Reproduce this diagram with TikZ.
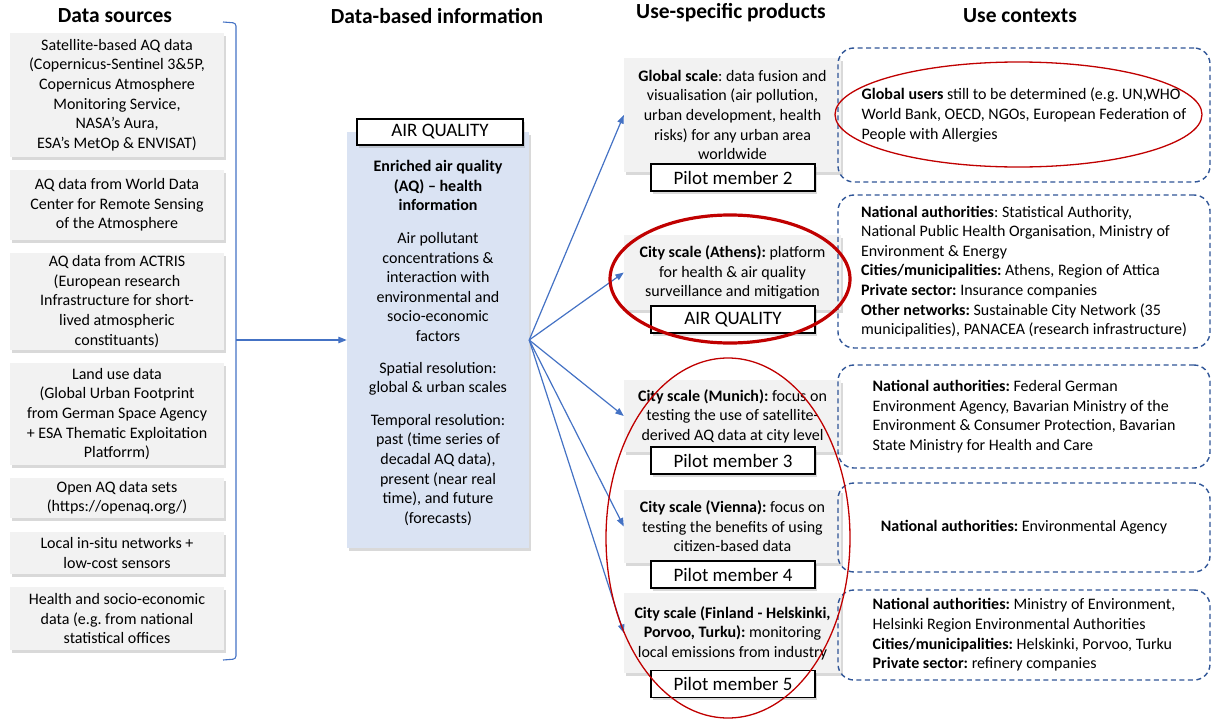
\documentclass[tikz,border=0pt]{standalone}
\usepackage{fontspec}
\setmainfont{Carlito}
\frenchspacing
\usetikzlibrary{positioning,shadows,arrows.meta}
\definecolor{aqblue}{HTML}{4472C4}
\definecolor{aqnavy}{HTML}{2F5597}
\definecolor{aqred}{HTML}{C00000}
\definecolor{aqgray}{HTML}{F2F2F2}
\definecolor{aqpale}{HTML}{DAE3F3}

\begin{document}
\begin{tikzpicture}[x=1pt,y=-1pt,
      font=\fontsize{16}{19.6}\selectfont,
      shade/.style={drop shadow={opacity=0.3,shadow xshift=2pt,shadow yshift=-2.5pt}},
      head/.style={font=\fontsize{21.5}{24}\selectfont\bfseries},
      src/.style ={fill=aqgray,shade,minimum width=214pt,align=center,inner sep=0pt},
      prod/.style={fill=aqgray,shade,minimum width=217pt,align=center,inner sep=0pt},
      tag/.style ={draw,line width=1.2pt,fill=white,shade,minimum width=164pt,minimum height=27pt,inner sep=0pt,font=\fontsize{19}{21}\selectfont},
      ctx/.style ={draw=aqnavy,line width=1.4pt,dash pattern=on 5pt off 3.5pt,rounded corners=16pt,minimum width=372pt,align=left},
      link/.style={-{Triangle[length=8.5pt,width=6.5pt]},aqblue,line width=1.2pt},
      circ/.style={aqred,line width=1.3pt}]
  \useasboundingbox (0,0) rectangle (1213,720);
  % Column headings
  \node[head] (hsrc)  at (115,16) {Data sources};
  \node[head] (hinfo) at (437,16) {Data-based information};
  \node[head] (hprod) at (731,13) {Use-specific products};
  \node[head] (hctx)  at (1020,16) {Use contexts};
  % Data sources
  \node[src,minimum height=124pt] (s1) at (117,95) {Satellite-based AQ data\\(Copernicus-Sentinel 3\&5P,\\Copernicus Atmosphere\\Monitoring Service,\\NASA’s Aura,\\ESA’s MetOp \& ENVISAT)};
  \node[src,minimum height=70pt] (s2) at (117,205) {AQ data from World Data\\Center for Remote Sensing\\of the Atmosphere};
  \node[src,minimum height=97pt] (s3) at (117,301.5) {AQ data from ACTRIS\\(European research\\Infrastructure for short-\\lived atmospheric\\constituants)};
  \node[src,minimum height=102pt] (s4) at (117,414) {Land use data\\(Global Urban Footprint\\from German Space Agency\\+ ESA Thematic Exploitation\\Platforrm)};
  \node[src,minimum height=40pt] (s5) at (117,498) {Open AQ data sets\\(https://openaq.org/)};
  \node[src,minimum height=42pt] (s6) at (117,553) {Local in-situ networks +\\low-cost sensors};
  \node[src,minimum height=63pt] (s7) at (117,618.5) {Health and socio-economic\\data (e.g. from national\\statistical offices};
  % Bracket and input arrow
  \draw[aqblue,line width=1.1pt,rounded corners=3pt] (223,22) -- (236,23) -- (236,659) -- (223,660);
  \coordinate (brc) at (236,340);
  % Data-based information
  \node[fill=aqpale,shade,minimum width=182pt,minimum height=416pt] (info) at (438,340) {};
  \node[tag,minimum width=166pt,minimum height=26pt] (aqhead) at (440,132) {AIR QUALITY};
  \node[align=center] (infotxt) at (438,343) {\textbf{Enriched air quality}\\\textbf{(AQ) – health}\\\textbf{information}\\[13pt]Air pollutant\\concentrations \&\\interaction with\\environmental and\\socio-economic\\factors\\[12pt]Spatial resolution:\\global \& urban scales\\[13pt]Temporal resolution:\\past (time series of\\decadal AQ data),\\present (near real\\time), and future\\(forecasts)};
  \draw[link] (brc) -- (info.west);
  % Use-specific products
  \node[prod,minimum height=114pt] (p1) at (732.5,115) {\textbf{Global scale}: data fusion and\\visualisation (air pollution,\\urban development, health\\risks) for any urban area\\worldwide};
  \node[prod,minimum height=75pt] (p2) at (732.5,272.5) {\textbf{City scale (Athens):} platform\\for health \& air quality\\surveillance and mitigation};
  \node[prod,minimum height=72pt] (p3) at (732.5,416) {\textbf{City scale (Munich):} focus on\\testing the use of satellite-\\derived AQ data at city level};
  \node[prod,minimum height=73pt] (p4) at (732.5,526.5) {\textbf{City scale (Vienna):} focus on\\testing the benefits of using\\citizen-based data};
  \node[prod,minimum height=80pt] (p5) at (732.5,633) {\textbf{City scale (Finland - Helskinki,}\\\textbf{Porvoo, Turku):} monitoring\\local emissions from industry};
  \node[tag] (t1) at (733,177.5) {Pilot member 2};
  \node[tag] (t2) at (733,319.5) {AIR QUALITY};
  \node[tag] (t3) at (733,460.5) {Pilot member 3};
  \node[tag] (t4) at (733,574.5) {Pilot member 4};
  \node[tag] (t5) at (733,684) {Pilot member 5};
  \foreach \p in {p1,p2,p3,p4,p5}{\draw[link] (info.east) -- (\p.west);}
  % Use contexts
  \node[ctx,minimum height=134pt] (c1) at (1024,115) {\textbf{Global users} still to be determined (e.g. UN,WHO\\World Bank, OECD, NGOs, European Federation of\\People with Allergies};
  \node[ctx,minimum height=153pt] (c2) at (1024,271.5) {\textbf{National authorities}: Statistical Authority,\\National Public Health Organisation, Ministry of\\Environment \& Energy\\\textbf{Cities/municipalities:} Athens, Region of Attica\\\textbf{Private sector:} Insurance companies\\\textbf{Other networks:} Sustainable City Network (35\\municipalities), PANACEA (research infrastructure)};
  \node[ctx,minimum height=103pt] (c3) at (1024,416.5) {\textbf{National authorities:} Federal German\\Environment Agency, Bavarian Ministry of the\\Environment \& Consumer Protection, Bavarian\\State Ministry for Health and Care};
  \node[ctx,minimum height=89pt,align=center] (c4) at (1024,527.5) {\textbf{National authorities:} Environmental Agency};
  \node[ctx,minimum height=90pt] (c5) at (1024,635) {\textbf{National authorities:} Ministry of Environment,\\Helsinki Region Environmental Authorities\\\textbf{Cities/municipalities:} Helskinki, Porvoo, Turku\\\textbf{Private sector:} refinery companies};
  % Highlight ellipses
  \draw[circ] (1018.5,114.5) ellipse [x radius=183.5,y radius=52.5];
  \draw[circ,line width=3.2pt] (730,279) ellipse [x radius=120,y radius=64];
  \draw[circ] (728,538) ellipse [x radius=122,y radius=180];
\end{tikzpicture}
\end{document}
